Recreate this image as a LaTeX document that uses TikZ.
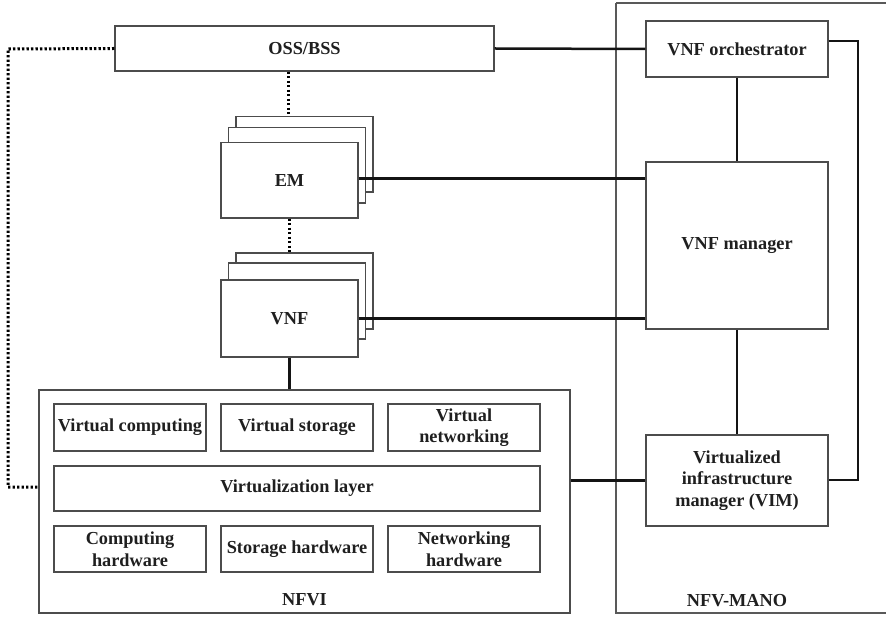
\documentclass[tikz,border=0pt]{standalone}
\usepackage{fontspec}
\setmainfont{Liberation Serif}
\begin{document}
\begin{tikzpicture}[x=1pt,y=-1pt,
  every node/.style={font=\bfseries\fontsize{18.3}{21.5}\selectfont, text=black!88},
  blk/.style={draw=black!70, line width=1.2pt, fill=white, rectangle, inner sep=0pt, align=center},
  link/.style={draw=black!92, line width=2.5pt},
  dotlink/.style={draw=black, line width=3pt, dash pattern=on 2.4pt off 2.1pt},
  frame/.style={draw=black!65, line width=1.1pt}]
\useasboundingbox (0,0) rectangle (886,617);
\clip (0,0) rectangle (886,617);

% NFV-MANO frame (its right side runs past the page edge)
\draw[frame] (616,3) -- (900,3) (616,3) -- (616,613) -- (900,613);
\node (manolabel) at (737,601) {NFV-MANO};

% OSS/BSS
\node[blk, minimum width=379pt, minimum height=45pt] (oss) at (304.5,48.5) {OSS/BSS};

% EM stack
\node[blk, minimum width=137pt, minimum height=75.3pt] (emback) at (304.5,154.3) {};
\node[blk, minimum width=137pt, minimum height=75.3pt] (emmid) at (297.2,165.3) {};
\node[blk, minimum width=137pt, minimum height=75.3pt] (em) at (289.5,180.3) {EM};

% VNF stack
\node[blk, minimum width=137pt, minimum height=76pt] (vnfback) at (304.5,291) {};
\node[blk, minimum width=137pt, minimum height=76pt] (vnfmid) at (297.2,301) {};
\node[blk, minimum width=137pt, minimum height=77pt] (vnf) at (289.5,318.5) {VNF};

% MANO blocks
\node[blk, minimum width=182pt, minimum height=56pt] (vnfo) at (737,49) {VNF orchestrator};
\node[blk, minimum width=182pt, minimum height=167pt] (vnfm) at (737,245.5) {VNF manager};
\node[blk, minimum width=182pt, minimum height=91pt] (vim) at (737,480.5) {Virtualized\\infrastructure\\manager (VIM)};

% NFVI
\node[blk, minimum width=531pt, minimum height=223pt] (nfvi) at (304.5,501.5) {};
\node (nfvilabel) at (304.5,600) {NFVI};
\node[blk, minimum width=152pt, minimum height=47pt] (vc) at (130,427.5) {Virtual computing};
\node[blk, minimum width=152pt, minimum height=47pt] (vs) at (297,427.5) {Virtual storage};
\node[blk, minimum width=152pt, minimum height=47pt] (vn) at (464,427.5) {Virtual\\networking};
\node[blk, minimum width=486pt, minimum height=45pt] (vl) at (297,488.5) {Virtualization layer};
\node[blk, minimum width=152pt, minimum height=46pt] (ch) at (130,549) {Computing\\hardware};
\node[blk, minimum width=152pt, minimum height=46pt] (sh) at (297,549) {Storage hardware};
\node[blk, minimum width=152pt, minimum height=46pt] (nh) at (464,549) {Networking\\hardware};

% corner points of the routed connectors
\coordinate (ossleft) at (8,49);
\coordinate (nfvileft) at (8,487);
\coordinate (vnfoturn) at (858,41);
\coordinate (vimturn) at (858,480);

% solid links
\draw[link] (oss.east) -- (vnfo.west);
\draw[link] (vnfo.south) -- (vnfm.north);
\draw[link] (vnfm.south) -- (vim.north);
\draw[link] (em.east |- 0,178.5) -- (vnfm.west |- 0,178.5);
\draw[link] (vnf.east |- 0,318.5) -- (vnfm.west |- 0,318.5);
\draw[link] (vnf.south) -- (nfvi.north -| vnf.south);
\draw[link] (nfvi.east |- vim.west) -- (vim.west);
\draw[link] (vnfo.east |- vnfoturn) -- (vnfoturn) -- (vimturn) -- (vim.east |- vimturn);

% dotted links
\draw[dotlink] (oss.south -| 288,0) -- (emback.north -| 288,0);
\draw[dotlink] (em.south) -- (vnfback.north -| em.south);
\draw[dotlink] (oss.west) -- (ossleft) -- (nfvileft) -- (nfvi.west |- nfvileft);
\end{tikzpicture}
\end{document}
